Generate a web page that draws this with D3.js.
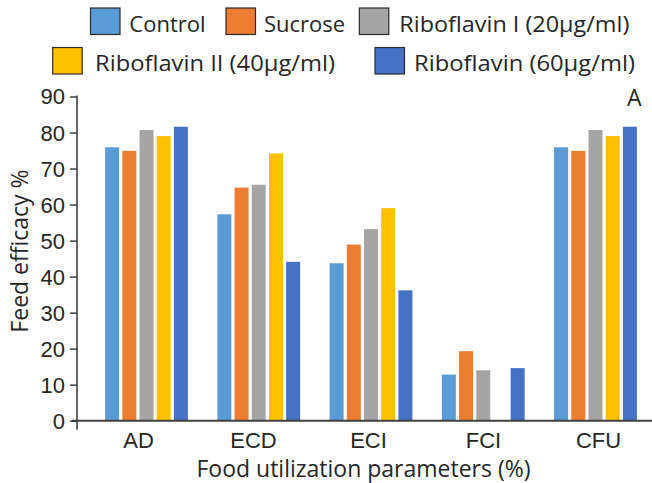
<!DOCTYPE html>
<html>
<head>
<meta charset="utf-8">
<script src="https://cdn.jsdelivr.net/npm/d3@7"></script>
<style>
  html, body { margin: 0; padding: 0; background: #fff; }
  svg { display: block; font-family: "Open Sans", "Noto Sans", sans-serif; }
</style>
</head>
<body>
<svg id="chart" width="652" height="483"></svg>
<script>
// ---- data ----
const categories = ["AD", "ECD", "ECI", "FCI", "CFU"];
const seriesNames = ["Control", "Sucrose", "Riboflavin I (20µg/ml)", "Riboflavin II (40µg/ml)", "Riboflavin (60µg/ml)"];
const seriesColors = ["#5B9BD5", "#ED7D31", "#A5A5A5", "#FFC000", "#4472C4"];
const control    = [75.9, 57.3, 43.7, 12.8, 75.9];
const sucrose    = [74.9, 64.7, 48.9, 19.3, 74.9];
const ribo20     = [80.7, 65.5, 53.2, 14.0, 80.7];
const ribo40     = [79.0, 74.2, 59.0, 0,    79.0];
const ribo60     = [81.6, 44.1, 36.2, 14.6, 81.6];
const yTicks = [0, 10, 20, 30, 40, 50, 60, 70, 80, 90];
const yTitle = "Feed efficacy %";
const xTitle = "Food utilization parameters (%)";
const panelLabel = "A";

const seriesValues = [control, sucrose, ribo20, ribo40, ribo60];

const svg = d3.select("#chart");
const textColor = "#262626";
const axisColor = "#404040";

// ---- scales ----
const y = d3.scaleLinear().domain([0, 90]).range([420.7, 96.5]);
const xGroup = d3.scaleBand().domain(categories).range([90.4, 651.6]).padding(0);
const groupWidth = 82.8;
const xInner = d3.scaleBand().domain(d3.range(seriesNames.length))
  .range([0, groupWidth]).paddingInner(0.186).paddingOuter(0);
const xLabel = d3.scaleBand().domain(categories).range([81, 656]).padding(0);

// ---- bars ----
const groups = svg.append("g").selectAll("g")
  .data(categories)
  .join("g")
  .attr("transform", c => `translate(${xGroup(c) + (xGroup.bandwidth() - groupWidth) / 2},0)`);

groups.selectAll("rect")
  .data((c, ci) => seriesValues.map((vals, si) => ({ si, v: vals[ci] })))
  .join("rect")
  .attr("x", d => xInner(d.si))
  .attr("width", xInner.bandwidth())
  .attr("y", d => y(d.v))
  .attr("height", d => y(0) - y(d.v))
  .attr("fill", d => seriesColors[d.si])
  .attr("display", d => d.v > 0 ? null : "none");

// ---- y axis ----
const yAxis = svg.append("g")
  .attr("transform", "translate(77,0)")
  .call(d3.axisLeft(y).tickValues(yTicks).tickSize(7).tickPadding(5).tickSizeOuter(0));
yAxis.select(".domain").remove();
yAxis.selectAll(".tick line").attr("stroke", axisColor).attr("stroke-width", 1.5);
yAxis.selectAll(".tick text")
  .attr("fill", textColor)
  .style("font-size", "22px")
  .attr("dy", "0.34em");
yAxis.append("line")
  .attr("x1", 0).attr("x2", 0)
  .attr("y1", y(90) - 1).attr("y2", y(0) + 9)
  .attr("stroke", axisColor).attr("stroke-width", 1.6);

// ---- x axis ----
const xAxis = svg.append("g")
  .attr("transform", `translate(0,${y(0)})`)
  .call(d3.axisBottom(xLabel).tickSize(0).tickPadding(12).tickSizeOuter(0));
xAxis.select(".domain").remove();
xAxis.selectAll(".tick text")
  .attr("fill", textColor)
  .style("font-size", "22px");
xAxis.append("line")
  .attr("x1", 72).attr("x2", 652)
  .attr("y1", 0).attr("y2", 0)
  .attr("stroke", axisColor).attr("stroke-width", 2);

// ---- titles ----
svg.append("text")
  .attr("x", 363.5).attr("y", 477)
  .attr("text-anchor", "middle")
  .attr("fill", textColor)
  .style("font-size", "23px")
  .text(xTitle);

svg.append("text")
  .attr("transform", "translate(28,251) rotate(-90)")
  .attr("text-anchor", "middle")
  .attr("fill", textColor)
  .style("font-size", "23px")
  .text(yTitle);

svg.append("text")
  .attr("x", 627).attr("y", 105.5)
  .attr("fill", textColor)
  .style("font-size", "23px")
  .text(panelLabel);

// ---- legend ----
const legendPos = [
  { bx: 90.5, by: 8, tx: 129.3, ty: 31.5, w: null },
  { bx: 226, by: 8, tx: 264, ty: 31.5, w: null },
  { bx: 359.3, by: 8, tx: 399.3, ty: 31.5, w: 230 },
  { bx: 52.7, by: 47.5, tx: 95, ty: 70.5, w: 240 },
  { bx: 375, by: 47.5, tx: 414, ty: 70.5, w: 221 }
];
const legend = svg.append("g").selectAll("g")
  .data(seriesNames)
  .join("g");
legend.append("rect")
  .attr("x", (d, i) => legendPos[i].bx)
  .attr("y", (d, i) => legendPos[i].by)
  .attr("width", 29.5).attr("height", 26.5)
  .attr("fill", (d, i) => seriesColors[i])
  .attr("stroke", "#2a2a2a").attr("stroke-width", 1.2);
legend.append("text")
  .attr("x", (d, i) => legendPos[i].tx)
  .attr("y", (d, i) => legendPos[i].ty)
  .attr("fill", textColor)
  .style("font-size", "22px")
  .each(function (d, i) {
    if (legendPos[i].w) {
      d3.select(this).attr("textLength", legendPos[i].w).attr("lengthAdjust", "spacingAndGlyphs");
    }
  })
  .text(d => d);
</script>
</body>
</html>
